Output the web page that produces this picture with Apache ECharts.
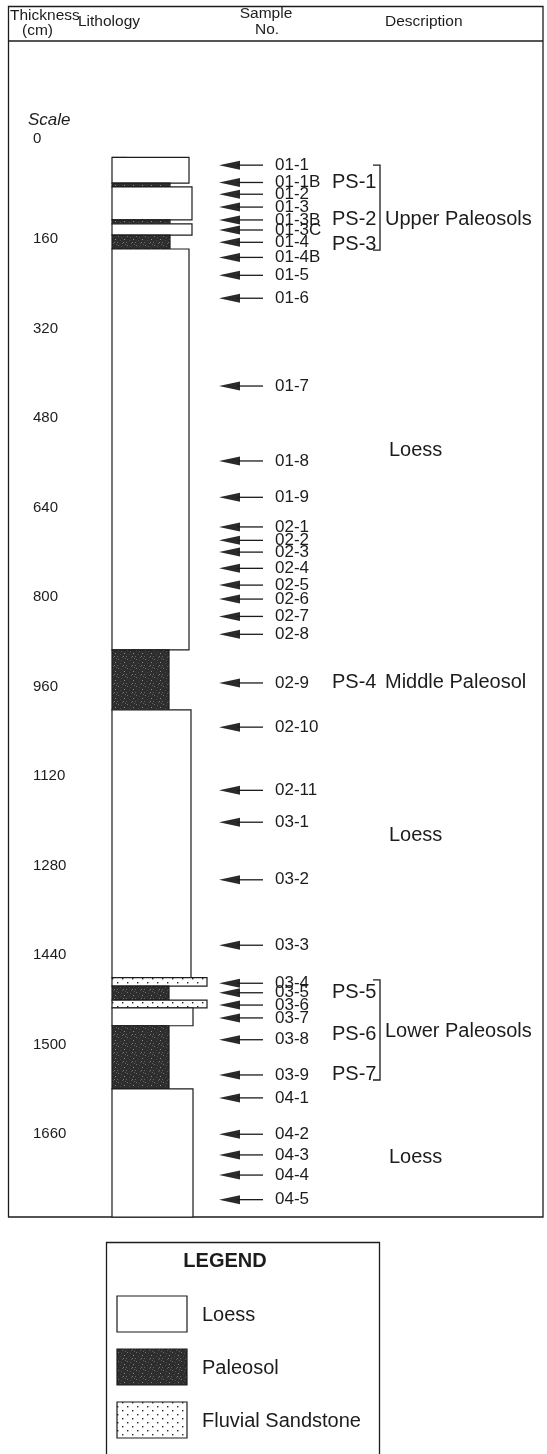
<!DOCTYPE html>
<html>
<head>
<meta charset="utf-8">
<script src="https://cdn.jsdelivr.net/npm/echarts@6/dist/echarts.min.js"></script>
<style>
html, body { margin: 0; padding: 0; background: #fff; }
#chart { width: 547px; height: 1454px; }
</style>
</head>
<body>
<div id="chart"></div>
<script>
// scale (cm) — the original figure prints 1500 / 1660 for the last two ticks
var tickDepths = [0, 160, 320, 480, 640, 800, 960, 1120, 1280, 1440, 1600, 1760];
var tickLabels = ['0', '160', '320', '480', '640', '800', '960', '1120', '1280', '1440', '1500', '1660'];

// lithology column, top to bottom (cm); relief = drawn width of the unit
var layerTop    = [0, 46, 53, 112, 119, 139, 164, 881, 988, 1467, 1482, 1507, 1521, 1553, 1666];
var layerBottom = [46, 53, 112, 119, 139, 164, 881, 988, 1467, 1482, 1507, 1521, 1553, 1666, 1895];
var layerType   = ['loess', 'paleosol', 'loess', 'paleosol', 'loess', 'paleosol', 'loess', 'paleosol',
                   'loess', 'sand', 'paleosol', 'sand', 'loess', 'paleosol', 'loess'];
var layerRelief = [77, 58, 80, 58, 80, 58, 77, 57, 79, 95, 57, 95, 81, 57, 81];

// samples
var sampleNames = ['01-1', '01-1B', '01-2', '01-3', '01-3B', '01-3C', '01-4', '01-4B', '01-5', '01-6',
                   '01-7', '01-8', '01-9',
                   '02-1', '02-2', '02-3', '02-4', '02-5', '02-6', '02-7', '02-8', '02-9', '02-10', '02-11',
                   '03-1', '03-2', '03-3', '03-4', '03-5', '03-6', '03-7', '03-8', '03-9',
                   '04-1', '04-2', '04-3', '04-4', '04-5'];
var sampleDepths = [14, 45, 66, 89, 112, 130, 152, 179, 211, 252,
                    409, 543, 608,
                    661, 685, 706, 735, 765, 790, 821, 853, 940, 1019, 1132,
                    1189, 1292, 1409, 1477, 1494, 1516, 1539, 1578, 1641,
                    1682, 1747, 1784, 1820, 1864];

// description column
var descTexts  = ['PS-1', 'PS-2', 'PS-3', 'Upper Paleosols', 'Loess', 'PS-4', 'Middle Paleosol', 'Loess',
                  'PS-5', 'PS-6', 'PS-7', 'Lower Paleosols', 'Loess'];
var descDepths = [45, 112, 155, 112, 524, 940, 940, 1212, 1494, 1569, 1641, 1564, 1789];
var descKinds  = ['ps', 'ps', 'ps', 'group', 'unit', 'ps', 'group', 'unit', 'ps', 'ps', 'ps', 'group', 'unit'];

// brackets round the paleosol groups
var bracketTop    = [14, 1471];
var bracketBottom = [166, 1650];

var legendNames = ['Loess', 'Paleosol', 'Fluvial Sandstone'];
var legendTypes = ['loess', 'paleosol', 'sand'];

var FONT = '"Liberation Sans", Arial, Helvetica, sans-serif';
var INK = '#1c1c1c';

function makePattern(kind) {
    var c = document.createElement('canvas');
    var ctx = c.getContext('2d');
    if (kind === 'paleosol') {
        c.width = 9; c.height = 9;
        ctx.fillStyle = '#2e2e2e';
        ctx.fillRect(0, 0, 9, 9);
        var light = [[1, 2], [5, 0], [7, 5], [3, 6], [0, 8], [6, 8], [4, 3], [8, 1]];
        var shade = ['#707070', '#5a5a5a', '#8a8a8a', '#4a4a4a', '#666', '#777', '#505050', '#606060'];
        light.forEach(function (p, i) {
            ctx.fillStyle = shade[i];
            ctx.fillRect(p[0], p[1], 1, 1);
        });
    } else {
        c.width = 10; c.height = 8;
        ctx.fillStyle = '#ffffff';
        ctx.fillRect(0, 0, 10, 8);
        ctx.fillStyle = '#222';
        ctx.fillRect(2, 2, 1.4, 1.4);
        ctx.fillRect(7, 6, 1.4, 1.4);
    }
    return { image: c, repeat: 'repeat' };
}

var fills = {
    loess: '#ffffff',
    paleosol: makePattern('paleosol'),
    sand: makePattern('sand')
};
var descX = { ps: 332, group: 385, unit: 389 };

var myChart = echarts.init(document.getElementById('chart'), null, { renderer: 'canvas' });

var legendItems = [];
legendTypes.forEach(function (t, i) {
    var top = 1296 + i * 53;
    legendItems.push({
        type: 'rect',
        shape: { x: 117, y: top, width: 70, height: 36 },
        style: { fill: fills[t], stroke: INK, lineWidth: 1.2 }
    });
    legendItems.push({
        type: 'text',
        x: 202, y: top + 19,
        style: { text: legendNames[i], fill: INK, font: '20px ' + FONT, verticalAlign: 'middle' }
    });
});

function headText(txt, x, y, align) {
    return { type: 'text', x: x, y: y,
             style: { text: txt, fill: INK, font: '15.5px ' + FONT, align: align || 'left', verticalAlign: 'middle' } };
}

var option = {
    animation: false,
    backgroundColor: '#fff',
    grid: { left: 112, width: 100, top: 41, bottom: 237 },
    xAxis: { type: 'value', min: 0, max: 100, show: false },
    yAxis: {
        type: 'value',
        inverse: true,
        min: -208,
        max: 1895,
        position: 'left',
        offset: 104,
        axisLine: { show: false },
        splitLine: { show: false },
        axisTick: {
            show: true,
            inside: true,
            length: 15,
            customValues: tickDepths,
            lineStyle: { color: INK, width: 1.2 }
        },
        axisLabel: {
            inside: true,
            margin: 25,
            customValues: tickDepths,
            verticalAlign: 'bottom',
            color: INK,
            fontSize: 15,
            fontFamily: FONT,
            formatter: function (v) {
                var i = tickDepths.indexOf(v);
                if (i === 0) return '{z|' + tickLabels[0] + '}';
                return i < 0 ? '' : tickLabels[i];
            },
            rich: {
                z: { fontSize: 15, fontFamily: FONT, color: INK, padding: [0, 0, 11, 0] }
            }
        }
    },
    graphic: [
        // frame and header rule
        { type: 'rect', shape: { x: 8.5, y: 6.5, width: 534.5, height: 1210.5 },
          style: { fill: 'none', stroke: INK, lineWidth: 1.3 } },
        { type: 'line', shape: { x1: 8.5, y1: 41, x2: 543, y2: 41 }, style: { stroke: INK, lineWidth: 1.3 } },
        headText('Thickness', 10, 15.5),
        headText('(cm)', 22, 31),
        headText('Lithology', 78, 22),
        headText('Sample', 266, 13.5, 'center'),
        headText('No.', 267, 29.5, 'center'),
        headText('Description', 385, 21.5),
        { type: 'text', x: 28, y: 120, style: { text: 'Scale', fill: INK, font: 'italic 17px ' + FONT, verticalAlign: 'middle' } },
        // legend box
        { type: 'rect', shape: { x: 106.5, y: 1242.5, width: 273, height: 240 },
          style: { fill: 'none', stroke: INK, lineWidth: 1.3 } },
        { type: 'text', x: 225, y: 1261, style: { text: 'LEGEND', fill: INK, font: 'bold 20px ' + FONT, align: 'center', verticalAlign: 'middle' } }
    ].concat(legendItems),
    series: [
        {
            name: 'Lithology',
            type: 'custom',
            silent: true,
            clip: false,
            data: layerTop.map(function (t, i) { return [t, layerBottom[i], layerRelief[i]]; }),
            renderItem: function (params, api) {
                var p0 = api.coord([0, api.value(0)]);
                var p1 = api.coord([api.value(2), api.value(1)]);
                return {
                    type: 'rect',
                    shape: { x: p0[0], y: p0[1], width: p1[0] - p0[0], height: p1[1] - p0[1] },
                    style: { fill: fills[layerType[params.dataIndex]], stroke: INK, lineWidth: 1.2 }
                };
            }
        },
        {
            name: 'Samples',
            type: 'custom',
            silent: true,
            clip: false,
            data: sampleDepths.map(function (d) { return [0, d]; }),
            renderItem: function (params, api) {
                var p = api.coord([0, api.value(1)]);
                var x = p[0], y = p[1];
                return {
                    type: 'group',
                    children: [
                        { type: 'polygon', shape: { points: [[x + 107, y], [x + 128, y - 4.5], [x + 128, y + 4.5]] },
                          style: { fill: '#2a2a2a' } },
                        { type: 'line', shape: { x1: x + 125, y1: y, x2: x + 151, y2: y },
                          style: { stroke: INK, lineWidth: 1.3 } },
                        { type: 'text', style: { text: sampleNames[params.dataIndex], x: x + 163, y: y,
                          fill: INK, font: '17px ' + FONT, verticalAlign: 'middle' } }
                    ]
                };
            }
        },
        {
            name: 'Description',
            type: 'custom',
            silent: true,
            clip: false,
            data: descDepths.map(function (d) { return [0, d]; }),
            renderItem: function (params, api) {
                var y = api.coord([0, api.value(1)])[1];
                var i = params.dataIndex;
                return {
                    type: 'text',
                    style: { text: descTexts[i], x: descX[descKinds[i]], y: y,
                             fill: INK, font: '20px ' + FONT, verticalAlign: 'middle' }
                };
            }
        },
        {
            name: 'Brackets',
            type: 'custom',
            silent: true,
            clip: false,
            data: bracketTop.map(function (t, i) { return [t, bracketBottom[i]]; }),
            renderItem: function (params, api) {
                var y0 = api.coord([0, api.value(0)])[1];
                var y1 = api.coord([0, api.value(1)])[1];
                var bx = 380;
                return {
                    type: 'polyline',
                    shape: { points: [[bx - 7, y0], [bx, y0], [bx, y1], [bx - 7, y1]] },
                    style: { fill: 'none', stroke: INK, lineWidth: 1.3 }
                };
            }
        }
    ]
};

myChart.setOption(option);
window.addEventListener('resize', function () {
    myChart.resize();
});
</script>
</body>
</html>
